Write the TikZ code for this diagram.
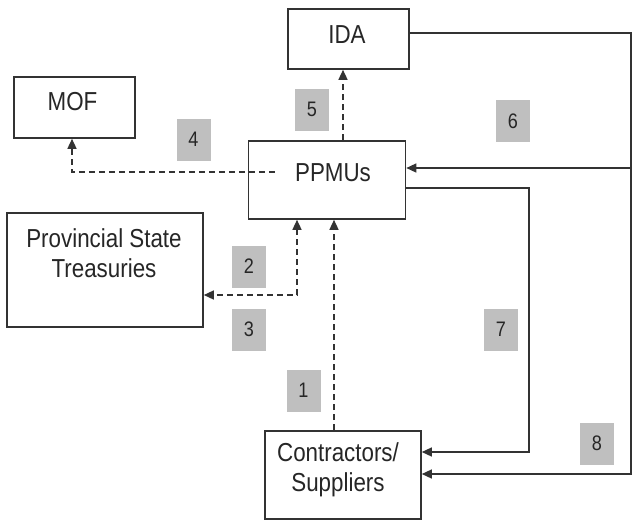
\documentclass[tikz,border=0pt]{standalone}
\usepackage{fontspec}
\setmainfont{Liberation Sans}[FakeStretch=0.86]
\usetikzlibrary{arrows.meta}
\tikzset{
	box/.style = {draw = black!80, line width = 1.6pt, fill = white, inner sep = 0pt},
	boxtext/.style = {font = \fontsize{26}{30}\selectfont, align = center, text = black!85},
	tag/.style = {fill = black!25, minimum width = 34pt, minimum height = 42pt, inner sep = 0pt, font = \fontsize{21}{24}\selectfont, text = black!85},
	flow/.style = {draw = black!80, line width = 1.4pt, ->},
	dflow/.style = {flow, dash pattern = on 6pt off 4pt},
	>={Triangle[length = 10pt, width = 9pt]}
}
\begin{document}
\begin{tikzpicture}[x = 1pt, y = -1pt]
	\useasboundingbox (0,0) rectangle (634,520);
	% boxes
	\node[box, minimum width = 121pt, minimum height = 60pt, label = {[boxtext, shift = {(-1.5pt,4pt)}]center:IDA}] (ida) at (348.5,39) {};
	\node[box, minimum width = 121pt, minimum height = 61pt, label = {[boxtext, shift = {(-2pt,5.5pt)}]center:MOF}] (mof) at (74.5,107.5) {};
	\node[box, minimum width = 157pt, minimum height = 78pt, label = {[boxtext, shift = {(6pt,7pt)}]center:PPMUs}] (ppmu) at (327,180) {};
	\node[box, minimum width = 196pt, minimum height = 114pt, label = {[boxtext, shift = {(-1pt,17pt)}]center:Provincial State\\Treasuries}] (pst) at (105,270) {};
	\node[box, minimum width = 156pt, minimum height = 88pt, label = {[boxtext, shift = {(-5pt,5pt)}]center:Contractors/\\Suppliers}] (cs) at (343,475) {};
	% flows
	\draw[dflow] ([xshift = -9pt]cs.north) -- ([xshift = -9pt]cs.north |- ppmu.south); %1
	\draw[dflow, <->] ([xshift = -30pt]ppmu.south) |- ([yshift = -25pt]pst.east); %2,3
	\draw[dflow] ([shift = {(27pt,8pt)}]ppmu.west) -| ([xshift = -2.5pt]mof.south); %4
	\draw[dflow] ([xshift = 16pt]ppmu.north) -- ([xshift = 16pt]ppmu.north |- ida.south); %5
	\coordinate (rail) at (631,168);
	\draw[flow] ([yshift = 6pt]ida.east) -| (rail) -- ([yshift = 12pt]ppmu.east); %6
	\draw[flow] ([yshift = -8pt]ppmu.east) -| (529,452) -- ([yshift = 23pt]cs.east); %7
	\draw[flow] (rail) |- ([yshift = 1pt]cs.east); %8
	% numbers
	\node[tag] (t1) at (303.5,390.5) {1};
	\node[tag] (t2) at (249,266.5) {2};
	\node[tag] (t3) at (249,329.5) {3};
	\node[tag] (t4) at (193.5,139.5) {4};
	\node[tag] (t5) at (312,109.5) {5};
	\node[tag] (t6) at (513,121) {6};
	\node[tag] (t7) at (501,329.5) {7};
	\node[tag] (t8) at (597,443.5) {8};
\end{tikzpicture}
\end{document}
